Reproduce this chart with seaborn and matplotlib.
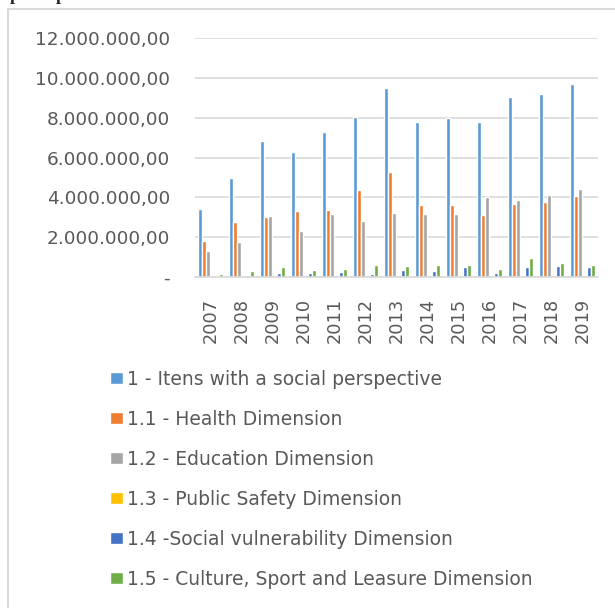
import pandas as pd
import numpy as np
import seaborn as sns
import matplotlib.pyplot as plt
from matplotlib.patches import Rectangle
from matplotlib.ticker import FuncFormatter

# ----------------------------
# Data
# ----------------------------
years = ["2007", "2008", "2009", "2010", "2011", "2012", "2013",
         "2014", "2015", "2016", "2017", "2018", "2019"]

social = [3390000, 4960000, 6810000, 6270000, 7290000, 8050000, 9500000,
          7800000, 7970000, 7800000, 9060000, 9210000, 9710000]
health = [1800000, 2740000, 2990000, 3310000, 3360000, 4390000, 5280000,
          3610000, 3610000, 3090000, 3680000, 3750000, 4080000]
education = [1310000, 1750000, 3080000, 2320000, 3160000, 2820000, 3190000,
             3180000, 3180000, 4020000, 3850000, 4100000, 4420000]
safety = [10000, 10000, 10000, 10000, 10000, 10000, 10000,
          10000, 10000, 10000, 10000, 10000, 20000]
vulnerability = [50000, 80000, 180000, 180000, 270000, 130000, 350000,
                 300000, 490000, 220000, 490000, 540000, 520000]
culture = [130000, 290000, 500000, 370000, 400000, 590000, 550000,
           590000, 590000, 390000, 940000, 690000, 590000]

series_names = ["1 - Itens with a social perspective",
                "1.1 - Health Dimension",
                "1.2 - Education Dimension",
                "1.3 - Public Safety Dimension",
                "1.4 -Social vulnerability Dimension",
                "1.5 - Culture, Sport and Leasure Dimension"]
series_values = [social, health, education, safety, vulnerability, culture]
colors = ["#5B9BD5", "#ED7D31", "#A5A5A5", "#FFC000", "#4472C4", "#70AD47"]

df = pd.DataFrame({
    "year": np.tile(years, len(series_names)),
    "value": np.concatenate(series_values),
    "series": np.repeat(series_names, len(years)),
})

# ----------------------------
# Plot
# ----------------------------
sns.set_style("white")
plt.rcParams["font.family"] = ["DejaVu Sans"]
text_color = "#595959"

fig = plt.figure(figsize=(6.15, 6.08), dpi=100)
ax = fig.add_axes([0.317, 0.5444, 0.655, 0.3931])

sns.barplot(data=df, x="year", y="value", hue="series", hue_order=series_names,
            palette=colors, width=0.82, ax=ax, legend=False, saturation=1)

ax.set_ylim(0, 12000000)
ax.set_yticks(np.arange(0, 12000001, 2000000))


def fmt(v, pos):
    if v == 0:
        return "-"
    return f"{v:,.2f}".replace(",", "X").replace(".", ",").replace("X", ".")


ax.yaxis.set_major_formatter(FuncFormatter(fmt))
ax.grid(axis="y", color="#D9D9D9", linewidth=1.2)
ax.set_axisbelow(True)
for s in ["top", "right", "left"]:
    ax.spines[s].set_visible(False)
ax.spines["bottom"].set_color("#D9D9D9")
ax.spines["bottom"].set_linewidth(1.2)
ax.tick_params(axis="y", length=0, pad=18, labelsize=13.3, labelcolor=text_color)
ax.tick_params(axis="x", length=0, pad=15, labelsize=12.8, labelcolor=text_color,
               labelrotation=90)
ax.set_xlabel("")
ax.set_ylabel("")

# legend below the chart
handles = [Rectangle((0, 0), 1, 1, facecolor=c) for c in colors]
fig.legend(handles, series_names, loc="upper left",
           bbox_to_anchor=(0.152, 0.42), frameon=False,
           fontsize=13.5, labelcolor=text_color, handlelength=0.65,
           handleheight=0.65, handletextpad=0.25, labelspacing=1.12)

# chart area border
fig.patches.append(Rectangle((8 / 615, -0.05), 1.2, 1 - 9 / 608 + 0.05,
                             transform=fig.transFigure, fill=False,
                             edgecolor="#D9D9D9", linewidth=1.5))

# clipped heading text from the page above
fig.text(10 / 615, 1.0, "p", family="Liberation Serif", weight="bold",
         fontsize=13, va="baseline")
fig.text(56 / 615, 1.0, "p", family="Liberation Serif", weight="bold",
         fontsize=13, va="baseline")

fig.savefig("out.png", dpi=100, facecolor="white")
